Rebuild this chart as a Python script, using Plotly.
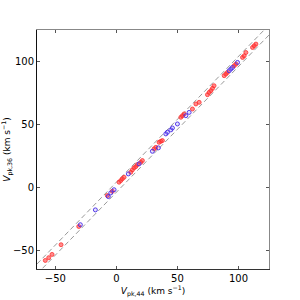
import plotly.graph_objects as go

# red (filled) points
red_x = [-58.2, -55.4, -52.7, -45.3, -30.8, -7.4, -3.3, 2.2, 3.6, 4.9, 6.3, 11.8, 13.1, 14.5, 15.9, 17.2,
         20.0, 21.3, 30.9, 32.3, 35.0, 36.4, 37.7, 52.8, 54.1, 55.5, 62.3, 65.1, 67.8, 74.6, 76.0, 77.4,
         78.7, 80.0, 88.3, 89.7, 91.0, 96.5, 97.9, 103.3, 104.7, 106.1, 111.5, 112.9, 114.3]
red_y = [-58.2, -56.0, -53.4, -45.7, -31.2, -6.6, -3.2, 4.0, 5.3, 6.7, 7.9, 11.9, 13.8, 15.4, 16.4, 18.0,
         19.8, 21.2, 30.5, 31.7, 35.7, 36.5, 37.1, 55.6, 56.9, 58.3, 62.2, 66.2, 67.5, 73.6, 75.4, 76.8,
         78.6, 80.7, 88.7, 90.0, 91.3, 96.6, 97.9, 103.2, 104.5, 107.1, 111.1, 112.5, 113.8]
# blue (open) points
blue_x = [-29.5, -17.2, -6.6, -4.6, -1.9, 9.8, 18.6, 29.5, 34.4, 40.5, 41.8, 44.6, 45.9, 50.0, 56.9,
          59.6, 92.4, 93.8, 95.1, 99.2]
blue_y = [-29.8, -18.0, -7.4, -4.5, -2.0, 10.6, 18.6, 28.6, 31.3, 42.4, 43.7, 45.6, 47.1, 50.3, 56.9,
          59.5, 92.6, 94.0, 95.2, 99.2]
# reference lines y = x + offset
line_x = [-65, 125]
offsets = [4, -4]
xticks = [-50, 0, 50, 100]
yticks = [-50, 0, 50, 100]

fig = go.Figure()
for off in offsets:
    fig.add_trace(go.Scatter(x=line_x, y=[v + off for v in line_x], mode="lines",
                             line=dict(color="#999999", width=1, dash="5px,3px"),
                             showlegend=False, hoverinfo="skip"))
fig.add_trace(go.Scatter(x=red_x, y=red_y, mode="markers",
                         marker=dict(size=4, color="rgba(255,60,60,0.6)",
                                     line=dict(color="rgba(255,40,40,0.75)", width=1)),
                         showlegend=False))
fig.add_trace(go.Scatter(x=blue_x, y=blue_y, mode="markers",
                         marker=dict(size=4, color="rgba(60,60,255,0.15)",
                                     line=dict(color="rgba(70,40,230,0.9)", width=1)),
                         showlegend=False))

font = dict(family="DejaVu Sans", size=10, color="black")
fig.update_layout(
    width=300, height=300,
    margin=dict(l=37, r=31, t=30, b=31),
    paper_bgcolor="white", plot_bgcolor="white",
    font=font,
    xaxis=dict(range=[-65, 125], tickvals=xticks, showgrid=False, zeroline=False, automargin=False,
               showline=True, linecolor="#333333", linewidth=1, mirror=False,
               ticks="inside", ticklen=3, tickcolor="#555555",
               title=dict(text="<i>V</i><sub>pk,44</sub> (km s<sup>−1</sup>)", standoff=4,
                          font=dict(family="DejaVu Sans", size=9))),
    yaxis=dict(range=[-65, 125], tickvals=yticks, showgrid=False, zeroline=False, automargin=False,
               showline=True, linecolor="#111111", linewidth=1, mirror=False,
               ticks="inside", ticklen=3, tickcolor="#555555",
               title=dict(text="<i>V</i><sub>pk,36</sub> (km s<sup>−1</sup>)", standoff=2,
                          font=dict(family="DejaVu Sans", size=9))),
    xaxis2=dict(range=[-65, 125], tickvals=xticks, overlaying="x", side="top", automargin=False,
                showgrid=False, zeroline=False, showline=True, linecolor="#888888",
                ticks="inside", ticklen=3, tickcolor="#555555", showticklabels=False),
    yaxis2=dict(range=[-65, 125], tickvals=yticks, overlaying="y", side="right", automargin=False,
                showgrid=False, zeroline=False, showline=True, linecolor="#888888",
                ticks="inside", ticklen=3, tickcolor="#555555", showticklabels=False),
)
fig.add_trace(go.Scatter(x=[None], y=[None], xaxis="x2", yaxis="y2", showlegend=False))
fig.write_html("out.html", config={"displayModeBar": False},
               post_script="document.body.style.margin='0';document.body.style.overflow='hidden';")
